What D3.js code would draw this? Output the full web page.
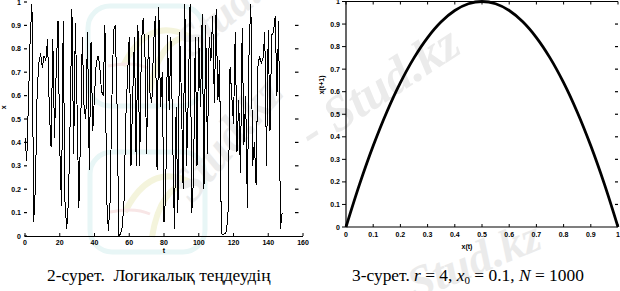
<!DOCTYPE html>
<html>
<head>
<meta charset="utf-8">
<script src="https://cdn.jsdelivr.net/npm/d3@7"></script>
<style>
  html, body { margin: 0; padding: 0; background: #fff; }
  svg { display: block; }
  .tick-label { font-family: "Liberation Sans", Arial, sans-serif; font-size: 7px; font-weight: bold; fill: #000; }
  .caption { font-family: "Liberation Serif", "Times New Roman", serif; font-size: 17.4px; fill: #000; white-space: pre; }
</style>
</head>
<body>
<svg id="chart" width="620" height="291"></svg>
<script>
// ---------- data ----------
// Left panel: time series x(t), t = 0,1,2,...
const seriesX = [
  0.42, 0.32, 0.58, 0.85, 0.99, 0.06, 0.21, 0.62, 0.74, 0.78,
  0.72, 0.77, 0.75, 0.84, 0.54, 0.38, 0.84, 0.42, 0.72, 0.92,
  0.38, 0.13, 0.92, 0.15, 0.03, 0.15, 0.50, 0.97, 0.35, 0.91,
  0.54, 0.12, 0.45, 0.85, 0.55, 0.50, 0.87, 0.28, 0.83, 0.45,
  0.60, 0.74, 0.77, 0.73, 0.62, 0.60, 0.90, 0.16, 0.02, 0.15,
  0.58, 0.88, 0.90, 0.55, 0.00, 0.01, 0.04, 0.15, 0.50, 0.68,
  0.85, 0.30, 0.60, 0.85, 0.30, 0.90, 0.30, 0.82, 0.93, 0.80,
  0.35, 0.86, 0.60, 0.57, 0.82, 0.94, 0.28, 0.98, 0.55, 0.70,
  0.06, 0.18, 0.86, 0.54, 0.85, 0.42, 0.03, 0.55, 0.10, 0.87,
  0.60, 0.20, 0.99, 0.30, 0.60, 0.99, 0.10, 0.25, 0.85, 0.30,
  0.85, 0.55, 0.95, 0.20, 0.90, 0.35, 0.85, 0.75, 0.94, 0.57,
  0.97, 0.58, 0.75, 0.01, 0.005, 0.01, 0.02, 0.12, 0.72, 0.60,
  0.48, 0.87, 0.36, 0.58, 0.27, 0.89, 0.39, 0.60, 0.12, 0.82,
  0.99, 0.30, 0.40, 0.22, 0.72, 0.77, 0.74, 0.76, 0.87, 0.30,
  0.88, 0.45, 0.86, 0.87, 0.94, 0.60, 0.92, 0.03, 0.10
];
const leftXTicks = [0, 20, 40, 60, 80, 100, 120, 140, 160];
const leftYTicks = [0, 0.1, 0.2, 0.3, 0.4, 0.5, 0.6, 0.7, 0.8, 0.9, 1];

// Right panel: return map x(t+1) versus x(t)
const mapXt  = [0, 0.05, 0.1, 0.15, 0.2, 0.25, 0.3, 0.35, 0.4, 0.45, 0.5,
                0.55, 0.6, 0.65, 0.7, 0.75, 0.8, 0.85, 0.9, 0.95, 1];
const mapXt1 = [0, 0.19, 0.36, 0.51, 0.64, 0.75, 0.84, 0.91, 0.96, 0.99, 1.0,
                0.99, 0.96, 0.91, 0.84, 0.75, 0.64, 0.51, 0.36, 0.19, 0];
const rightXTicks = [0, 0.1, 0.2, 0.3, 0.4, 0.5, 0.6, 0.7, 0.8, 0.9, 1];
const rightYTicks = [0, 0.1, 0.2, 0.3, 0.4, 0.5, 0.6, 0.7, 0.8, 0.9, 1];

// ---------- drawing ----------
const svg = d3.select("#chart");
svg.append("rect").attr("width", 620).attr("height", 291).attr("fill", "#fff");

const fmt = d => (d === 0 ? "0" : d === 1 ? "1" : String(d));

// watermark (faint)
const wm = svg.append("g").attr("pointer-events", "none");
[[88, 6], [90, 152]].forEach(([x, y]) => {
  wm.append("rect").attr("x", x).attr("y", y).attr("width", 115).attr("height", 100)
    .attr("rx", 22).attr("fill", "none").attr("stroke", "#e8f6f6").attr("stroke-width", 5);
  wm.append("path")
    .attr("d", `M${x + 35},${y + 60} Q${x + 60},${y + 10} ${x + 100},${y + 30} Q${x + 70},${y + 35} ${x + 62},${y + 85}`)
    .attr("fill", "none").attr("stroke", "#f4f4dc").attr("stroke-width", 6);
  wm.append("path")
    .attr("d", `M${x + 20},${y + 60} Q${x + 45},${y + 55} ${x + 60},${y + 62}`)
    .attr("fill", "none").attr("stroke", "#f8e6e6").attr("stroke-width", 3);
});
const wmText = [
  { t: "Stud.kz", x: 192, y: 58, a: -40, s: 44 },
  { t: "Stud.kz", x: 192, y: 205, a: -50, s: 48 },
  { t: "- Stud.kz", x: 312, y: 150, a: -33, s: 50 },
  { t: "Stud.kz", x: 415, y: 300, a: -22, s: 46 }
];
wmText.forEach(w => {
  wm.append("text").attr("x", w.x).attr("y", w.y)
    .attr("transform", `rotate(${w.a},${w.x},${w.y})`)
    .attr("font-family", "Liberation Serif, serif").attr("font-style", "italic").attr("font-weight", "bold")
    .attr("font-size", w.s).attr("fill", "#ebebeb").text(w.t);
});

// ----- left panel -----
const xL = d3.scaleLinear().domain([0, 160]).range([25, 303]);
const yL = d3.scaleLinear().domain([0, 1]).range([236, 2]);
const gL = svg.append("g");

gL.append("path")
  .datum(seriesX)
  .attr("d", d3.line().x((d, i) => xL(i)).y(d => yL(d)))
  .attr("fill", "none").attr("stroke", "#000").attr("stroke-width", 1)
  .attr("shape-rendering", "crispEdges");

// bottom axis line
gL.append("line").attr("x1", xL(0)).attr("x2", xL(160)).attr("y1", yL(0) + 0.5).attr("y2", yL(0) + 0.5)
  .attr("stroke", "#000").attr("stroke-width", 1.2);
gL.selectAll(".xt").data(leftXTicks).enter().append("line")
  .attr("x1", d => xL(d)).attr("x2", d => xL(d)).attr("y1", yL(0)).attr("y2", yL(0) - 3)
  .attr("stroke", "#000").attr("stroke-width", 1);
gL.selectAll(".xl").data(leftXTicks).enter().append("text")
  .attr("class", "tick-label").attr("x", d => xL(d)).attr("y", yL(0) + 9)
  .attr("text-anchor", "middle").text(fmt);
// left y ticks + labels
gL.selectAll(".ytl").data(leftYTicks).enter().append("line")
  .attr("x1", 24).attr("x2", 27).attr("y1", d => yL(d)).attr("y2", d => yL(d))
  .attr("stroke", "#000").attr("stroke-width", 1.2);
gL.selectAll(".ytr").data(leftYTicks.slice(1, -1)).enter().append("line")
  .attr("x1", 295).attr("x2", 298.5).attr("y1", d => yL(d)).attr("y2", d => yL(d))
  .attr("stroke", "#000").attr("stroke-width", 1.2);
gL.selectAll(".yl").data(leftYTicks).enter().append("text")
  .attr("class", "tick-label").attr("x", 21).attr("y", d => yL(d) + 2.5)
  .attr("text-anchor", "end").text(fmt);
// axis titles
gL.append("text").attr("class", "tick-label").attr("text-anchor", "middle")
  .attr("transform", `translate(6,${yL(0.55)}) rotate(-90)`).text("x");
gL.append("text").attr("class", "tick-label").attr("text-anchor", "middle")
  .attr("x", xL(80)).attr("y", 253).text("t");

// ----- right panel -----
const xR = d3.scaleLinear().domain([0, 1]).range([346, 618]);
const yR = d3.scaleLinear().domain([0, 1]).range([227, 1.5]);
const gR = svg.append("g");

gR.append("path")
  .datum(mapXt.map((d, i) => [d, mapXt1[i]]))
  .attr("d", d3.line().x(d => xR(d[0])).y(d => yR(d[1])).curve(d3.curveCatmullRom))
  .attr("fill", "none").attr("stroke", "#000").attr("stroke-width", 2.8);

// box lines (left, bottom, top)
gR.append("line").attr("x1", xR(0)).attr("x2", xR(0)).attr("y1", yR(1)).attr("y2", yR(0))
  .attr("stroke", "#000").attr("stroke-width", 1.2);
gR.append("line").attr("x1", xR(0)).attr("x2", xR(1)).attr("y1", yR(0)).attr("y2", yR(0))
  .attr("stroke", "#000").attr("stroke-width", 1.2);
gR.append("line").attr("x1", xR(0)).attr("x2", xR(1)).attr("y1", yR(1)).attr("y2", yR(1))
  .attr("stroke", "#000").attr("stroke-width", 1.2);
// ticks
gR.selectAll(".bt").data(rightXTicks).enter().append("line")
  .attr("x1", d => xR(d)).attr("x2", d => xR(d)).attr("y1", yR(0)).attr("y2", yR(0) - 3)
  .attr("stroke", "#000").attr("stroke-width", 1);
gR.selectAll(".tt").data(rightXTicks).enter().append("line")
  .attr("x1", d => xR(d)).attr("x2", d => xR(d)).attr("y1", yR(1)).attr("y2", yR(1) + 3)
  .attr("stroke", "#000").attr("stroke-width", 1);
gR.selectAll(".lt").data(rightYTicks).enter().append("line")
  .attr("x1", xR(0) - 4).attr("x2", xR(0)).attr("y1", d => yR(d)).attr("y2", d => yR(d))
  .attr("stroke", "#000").attr("stroke-width", 1);
gR.selectAll(".rt").data(rightYTicks.slice(1, -1)).enter().append("line")
  .attr("x1", xR(1) - 3).attr("x2", xR(1)).attr("y1", d => yR(d)).attr("y2", d => yR(d))
  .attr("stroke", "#000").attr("stroke-width", 1.2);
// labels
gR.selectAll(".bl").data(rightXTicks).enter().append("text")
  .attr("class", "tick-label").attr("x", d => xR(d)).attr("y", yR(0) + 10)
  .attr("text-anchor", "middle").text(fmt);
gR.selectAll(".ll").data(rightYTicks).enter().append("text")
  .attr("class", "tick-label").attr("x", xR(0) - 6).attr("y", d => yR(d) + 2.5)
  .attr("text-anchor", "end").text(fmt);
gR.append("text").attr("class", "tick-label").attr("text-anchor", "middle")
  .attr("transform", `translate(324,${yR(0.63)}) rotate(-90)`).text("x(t+1)");
gR.append("text").attr("class", "tick-label").attr("text-anchor", "middle")
  .attr("x", 467).attr("y", 249).text("x(t)");

// ----- captions -----
svg.append("text").attr("class", "caption").attr("x", 47).attr("y", 281)
  .text("2-сурет.  Логикалық теңдеудің");
const cap = svg.append("text").attr("class", "caption").attr("x", 352).attr("y", 281);
cap.append("tspan").text("3-сурет. ");
cap.append("tspan").attr("font-style", "italic").text("r");
cap.append("tspan").text(" = 4, ");
cap.append("tspan").attr("font-style", "italic").text("x");
cap.append("tspan").attr("font-size", 11).attr("dy", 3).text("0");
cap.append("tspan").attr("dy", -3).text(" = 0.1, ");
cap.append("tspan").attr("font-style", "italic").text("N");
cap.append("tspan").text(" = 1000");
</script>
</body>
</html>
